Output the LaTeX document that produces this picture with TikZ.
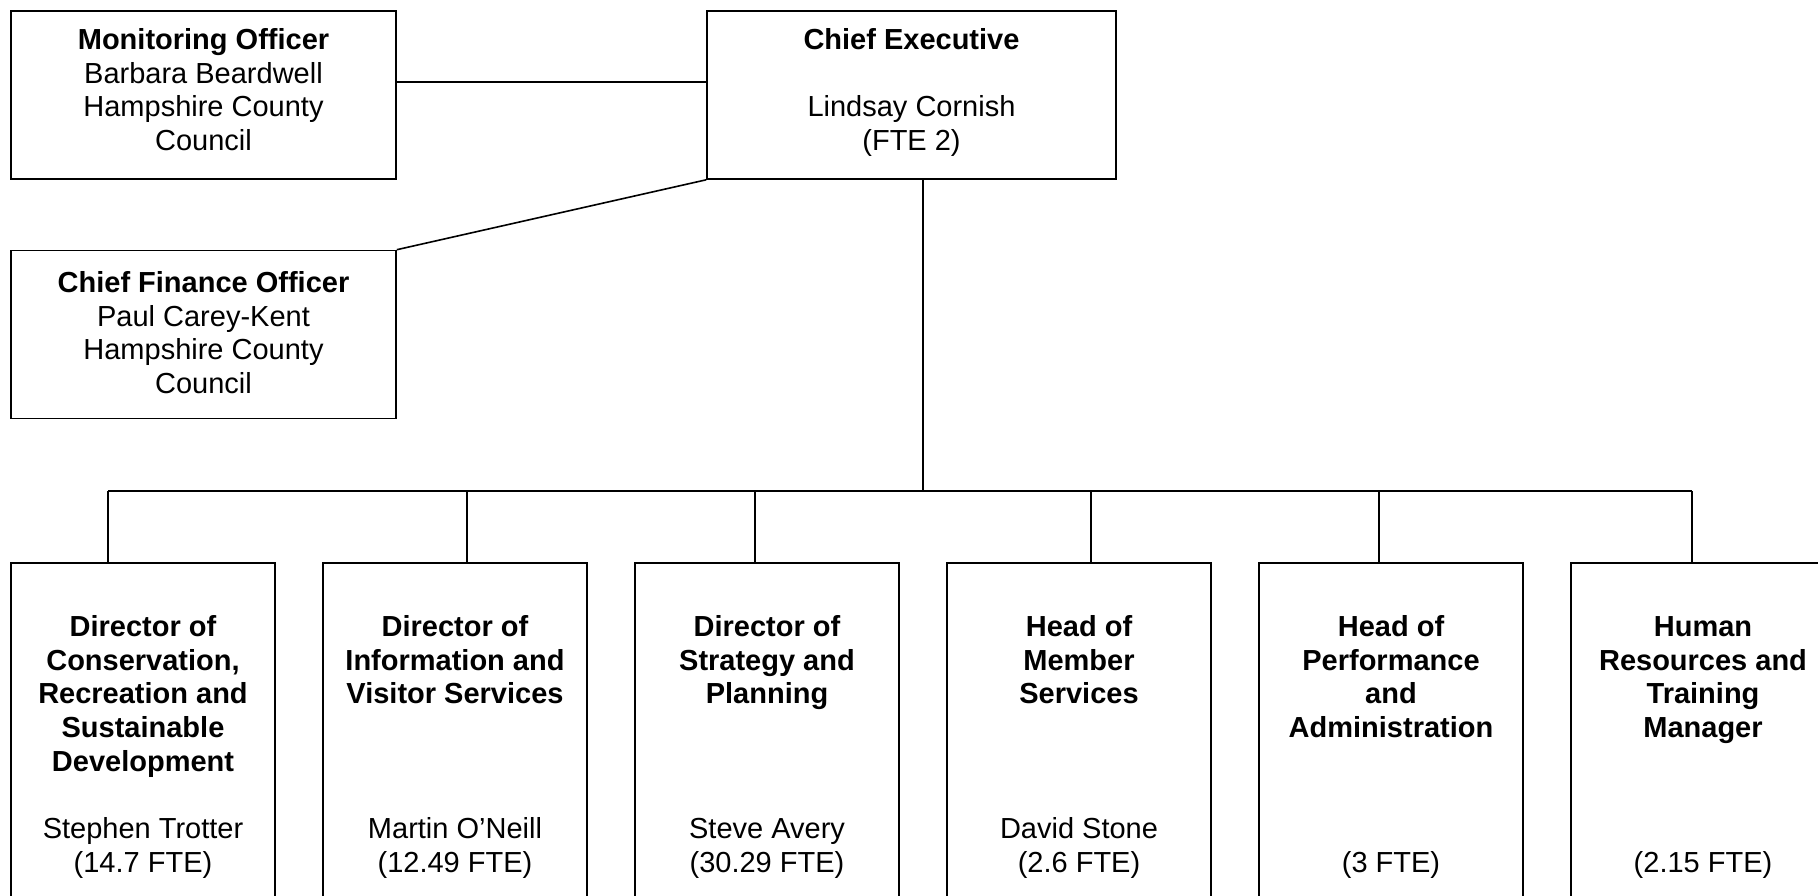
\documentclass[tikz,border=0pt]{standalone}
\usepackage{fontspec}
\setmainfont{Liberation Sans}
\begin{document}
\begin{tikzpicture}[x=0.5pt,y=-0.5pt,
  box/.style={draw, line width=0.8pt, inner sep=0pt, rectangle},
  topbox/.style={box, minimum width=#1, minimum height=84pt},
  lowbox/.style={box, minimum width=132pt, minimum height=200pt},
  txt/.style={inner sep=0pt, align=center, anchor=north, font=\fontsize{14.5pt}{16.85pt}\selectfont},
  ttl/.style={txt, font=\fontsize{14.5pt}{16.85pt}\selectfont\bfseries},
  conn/.style={line width=0.8pt}]
\useasboundingbox (0,0) rectangle (1818,895);
\clip (0,0) rectangle (1818,895);

% top boxes
\node[topbox=192.5pt] (mon) at (203.5,95) {};
\node[topbox=204.5pt] (ce) at (911.5,95) {};
\node[topbox=192.5pt] (cfo) at (203.5,334.5) {};

\node[txt] (monT) at (203.5,25.5) {\strut\textbf{Monitoring Officer}\\Barbara Beardwell\\Hampshire County\\Council};
\node[txt] (ceT) at (911.5,25.5) {\strut\textbf{Chief Executive}\\\mbox{}\\Lindsay Cornish\\(FTE 2)};
\node[txt] (cfoT) at (203.5,268.5) {\strut\textbf{Chief Finance Officer}\\Paul Carey-Kent\\Hampshire County\\Council};

% bottom boxes
\node[lowbox] (d1) at (143,763) {};
\node[lowbox] (d2) at (455,763) {};
\node[lowbox] (d3) at (767,763) {};
\node[lowbox] (d4) at (1079,763) {};
\node[lowbox] (d5) at (1391,763) {};
\node[lowbox] (d6) at (1703,763) {};

\node[ttl] (d1T) at (143,612.3) {\strut Director of\\Conservation,\\Recreation and\\Sustainable\\Development};
\node[ttl] (d2T) at (455,612.3) {\strut Director of\\Information and\\Visitor Services};
\node[ttl] (d3T) at (767,612.3) {\strut Director of\\Strategy and\\Planning};
\node[ttl] (d4T) at (1079,612.3) {\strut Head of\\Member\\Services};
\node[ttl] (d5T) at (1391,612.3) {\strut Head of\\Performance\\and\\Administration};
\node[ttl] (d6T) at (1703,612.3) {\strut Human\\Resources and\\Training\\Manager};

\node[txt] (d1S) at (143,814.5) {\strut Stephen Trotter\\(14.7 FTE)};
\node[txt] (d2S) at (455,814.5) {\strut Martin O'Neill\\(12.49 FTE)};
\node[txt] (d3S) at (767,814.5) {\strut Steve Avery\\(30.29 FTE)};
\node[txt] (d4S) at (1079,814.5) {\strut David Stone\\(2.6 FTE)};
\node[txt] (d5S) at (1391,848.2) {\strut (3 FTE)};
\node[txt] (d6S) at (1703,848.2) {\strut (2.15 FTE)};

% connectors
\coordinate (lvl) at (0,82);
\coordinate (bus) at (0,491);
\coordinate (cev) at (923,0);
\coordinate (v1) at (108,0);
\coordinate (v2) at (467,0);
\coordinate (v3) at (755,0);
\coordinate (v4) at (1091,0);
\coordinate (v5) at (1379,0);
\coordinate (v6) at (1692,0);

\draw[conn] (mon.east |- lvl) -- (ce.west |- lvl);
\draw[conn] (cfo.north east) -- (ce.south west);
\draw[conn] (ce.south -| cev) -- (cev |- bus);
\draw[conn] (v1 |- bus) -- (v6 |- bus);
\draw[conn] (v1 |- bus) -- (v1 |- d1.north);
\draw[conn] (v2 |- bus) -- (v2 |- d2.north);
\draw[conn] (v3 |- bus) -- (v3 |- d3.north);
\draw[conn] (v4 |- bus) -- (v4 |- d4.north);
\draw[conn] (v5 |- bus) -- (v5 |- d5.north);
\draw[conn] (v6 |- bus) -- (v6 |- d6.north);
\end{tikzpicture}
\end{document}
